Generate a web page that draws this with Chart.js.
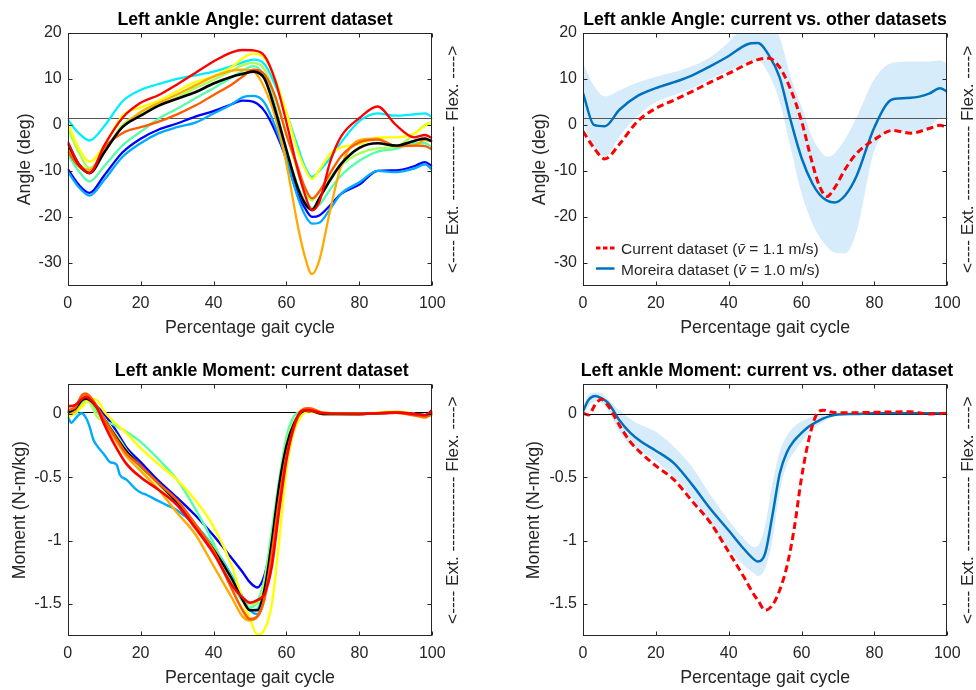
<!DOCTYPE html>
<html>
<head>
<meta charset="utf-8">
<script src="https://cdn.jsdelivr.net/npm/chart.js@4.4.1/dist/chart.umd.min.js"></script>
<style>
  html, body { margin: 0; padding: 0; background: #fff; }
  .panel { position: absolute; width: 488px; height: 345px; }
</style>
</head>
<body>
<div class="panel" style="left:0;top:0"><canvas id="angleCurrent"></canvas></div>
<div class="panel" style="left:488px;top:0"><canvas id="angleCompare"></canvas></div>
<div class="panel" style="left:0;top:345px"><canvas id="momentCurrent"></canvas></div>
<div class="panel" style="left:488px;top:345px"><canvas id="momentCompare"></canvas></div>
<script>
// ---- shared axes ----
const gaitTicks = [0, 20, 40, 60, 80, 100];
const angleTicks = [-30, -20, -10, 0, 10, 20];
const momentTicks = [-1.5, -1, -0.5, 0];

// ---- ankle angle, current dataset (one curve per trial + mean) ----
const pctAngle = [0,3,6,10,15,20,25,30,35,40,45,48,51,54,57,60,63,65,67,69,72,75,80,85,90,95,98,100];
const angleRed = [-3.6,-8.5,-10.5,-4.5,1.5,4.8,6.5,8.8,11.3,13.8,15.8,16.3,16.2,15.0,9.5,0.5,-9.5,-15.0,-18.6,-16.8,-8.0,-2.5,1.5,4.0,0.0,-2.7,-2.2,-2.9];
const angleBlack = [-4.0,-8.5,-10.5,-6.0,-0.5,2.0,4.2,5.7,7.1,9.0,10.5,11.1,11.6,10.0,3.0,-5.5,-13.5,-17.0,-18.5,-16.0,-12.0,-8.5,-5.0,-4.0,-4.5,-3.5,-3.0,-3.6];
const angleOrangeRed = [-5.8,-9.0,-10.5,-5.0,-1.8,-0.5,0.7,2.3,4.2,6.5,8.8,10.5,12.0,11.0,6.0,-2.2,-9.0,-13.5,-16.0,-14.5,-10.5,-6.8,-3.8,-3.2,-4.6,-4.5,-4.6,-5.4];
const angleOrange = [-5.1,-8.5,-9.8,-5.5,-0.5,2.8,4.8,6.6,8.6,10.5,11.8,12.0,11.6,8.0,1.5,-8.5,-21.5,-28.5,-32.5,-29.5,-18.5,-9.0,-3.3,-3.0,-4.6,-4.5,-3.3,-3.6];
const angleYellow = [0.4,-5.0,-8.0,-4.5,2.0,3.8,5.3,7.3,9.3,10.6,12.6,14.5,15.5,14.5,9.8,2.6,-5.5,-9.5,-11.8,-9.8,-6.3,-4.9,-4.2,-2.8,-2.7,-1.9,-0.2,0.7];
const angleYellowGreen = [-0.7,-6.0,-9.4,-6.0,0.0,2.5,4.3,6.0,8.0,9.8,11.8,13.0,13.5,12.0,6.0,-2.0,-10.0,-14.5,-16.5,-14.5,-11.5,-8.8,-6.2,-5.1,-4.8,-2.0,0.0,0.5];
const angleSpringGreen = [-6.4,-10.0,-12.3,-9.0,-4.5,-1.5,1.4,3.5,5.8,8.0,10.3,11.8,12.8,10.5,4.0,-5.8,-13.0,-16.5,-18.0,-17.4,-14.0,-11.0,-7.8,-5.8,-5.2,-4.0,-4.0,-5.0];
const angleCyan = [1.2,-1.8,-3.4,-0.3,5.1,7.6,8.9,10.0,10.8,11.6,12.8,13.6,14.2,13.2,8.5,2.5,-4.5,-9.0,-11.3,-10.0,-7.2,-3.8,0.8,2.5,2.0,2.3,2.5,1.7];
const angleSky = [-10.1,-13.5,-15.4,-12.0,-7.0,-4.0,-1.8,-0.5,0.5,2.5,4.5,6.0,6.3,4.8,-0.5,-7.5,-15.5,-19.5,-21.5,-21.3,-18.3,-15.0,-12.5,-10.0,-10.3,-9.5,-8.6,-9.8];
const angleBlue = [-9.6,-13.0,-14.8,-11.0,-6.0,-3.0,-1.0,0.3,1.8,3.0,4.5,5.3,5.0,3.0,-1.5,-7.5,-15.0,-18.0,-20.0,-19.7,-17.5,-15.0,-13.0,-10.0,-9.9,-9.0,-8.1,-9.0];

// ---- ankle angle, current vs. Moreira ----
const angleCurrentMean = [-1.4,-5.0,-7.4,-4.2,0.8,3.6,5.4,7.3,9.3,11.2,13.2,14.2,14.5,12.5,7.7,0.8,-8.5,-13.5,-15.6,-13.8,-9.6,-6.3,-3.2,-1.2,-1.8,-0.8,-0.1,-0.6];
const angleMoreiraMean = [6.9,0.0,-0.3,3.3,6.3,8.0,9.3,10.8,12.8,15.0,17.5,17.8,15.2,10.3,1.0,-7.2,-12.8,-15.2,-16.5,-16.9,-15.3,-11.3,-0.5,5.6,5.9,6.8,8.0,7.2];
const angleMoreiraUpper = [13.4,8.5,6.2,7.5,9.2,10.5,11.5,12.8,14.8,18.0,22.0,23.0,22.5,19.0,10.5,4.0,-2.8,-5.5,-6.9,-6.2,-3.0,1.5,10.0,13.5,13.8,13.8,14.0,13.3];
const angleMoreiraLower = [0.4,-5.0,-7.0,-2.5,2.0,5.0,6.5,8.0,10.0,11.8,13.5,14.0,11.0,5.0,-5.0,-15.0,-21.5,-24.5,-26.5,-27.8,-28.0,-23.5,-5.5,-1.5,-1.5,-0.5,1.5,1.5];

// ---- ankle moment, current dataset ----
const pctMoment = [0,2,4,5,6,8,10,13,16,20,25,30,35,40,45,48,50,52,54,56,58,60,62,64,66,70,80,90,95,98,100];
const momentRed = [0.06,0.07,0.12,0.135,0.12,0.05,-0.08,-0.25,-0.39,-0.5,-0.6,-0.72,-0.9,-1.1,-1.35,-1.45,-1.49,-1.47,-1.42,-1.2,-0.76,-0.36,-0.1,0.02,0.03,0.005,0.0,0.01,0.0,-0.01,0.03];
const momentBlack = [0.01,0.04,0.11,0.12,0.11,0.05,-0.04,-0.17,-0.29,-0.41,-0.55,-0.7,-0.88,-1.07,-1.3,-1.47,-1.55,-1.55,-1.38,-1.0,-0.56,-0.25,-0.08,0.01,0.03,0.0,0.0,0.01,0.0,-0.01,0.0];
const momentOrangeRed = [0.03,0.05,0.15,0.16,0.14,0.06,-0.04,-0.18,-0.31,-0.41,-0.55,-0.68,-0.87,-1.08,-1.38,-1.55,-1.62,-1.6,-1.45,-1.1,-0.68,-0.33,-0.11,0.02,0.045,0.01,0.0,0.01,-0.01,-0.02,0.0];
const momentOrange = [0.0,0.02,0.13,0.15,0.13,0.05,-0.06,-0.2,-0.33,-0.45,-0.6,-0.78,-0.95,-1.2,-1.45,-1.6,-1.63,-1.6,-1.46,-1.13,-0.73,-0.35,-0.12,0.03,0.045,0.01,0.0,0.01,-0.01,-0.03,0.0];
const momentYellow = [-0.03,0.01,0.06,0.09,0.12,0.11,0.02,-0.07,-0.15,-0.27,-0.4,-0.52,-0.68,-0.89,-1.2,-1.47,-1.62,-1.74,-1.7,-1.5,-1.0,-0.44,-0.14,-0.02,0.02,0.0,0.0,0.02,0.0,-0.02,0.01];
const momentYellowGreen = [-0.02,0.01,0.08,0.1,0.09,-0.02,-0.06,-0.15,-0.28,-0.42,-0.56,-0.71,-0.88,-1.06,-1.3,-1.45,-1.5,-1.5,-1.32,-0.98,-0.55,-0.22,-0.06,0.01,0.03,0.0,0.0,0.01,0.0,-0.01,0.0];
const momentSpringGreen = [0.0,0.0,0.08,0.11,0.1,0.02,-0.05,-0.09,-0.14,-0.22,-0.36,-0.52,-0.75,-1.02,-1.34,-1.48,-1.53,-1.48,-1.3,-0.92,-0.52,-0.18,-0.02,0.02,0.03,0.0,0.0,0.01,0.0,-0.01,0.0];
const momentCyan = [0.01,0.04,0.08,0.1,0.1,0.04,-0.05,-0.18,-0.3,-0.42,-0.55,-0.7,-0.87,-1.05,-1.28,-1.45,-1.55,-1.54,-1.35,-1.0,-0.55,-0.25,-0.08,0.0,0.03,0.0,0.0,0.01,0.0,-0.01,0.0];
const momentBlue = [0.02,0.05,0.14,0.15,0.13,0.06,0.0,-0.12,-0.26,-0.38,-0.53,-0.66,-0.8,-0.96,-1.14,-1.25,-1.33,-1.37,-1.27,-1.0,-0.6,-0.28,-0.09,0.0,0.03,0.005,0.0,0.01,0.0,-0.01,0.0];
// this trial is noisier, so it is read at its own points
const pctMomentSky = [0,1,2,3.8,5,6,7,8,10,11.6,13.4,14.3,16.2,18.9,20,21.7,24.4,27.2,30,35,40,45,48,50,52,54,56,58,60,62,64,66,70,80,90,95,98,100];
const momentSky = [-0.02,-0.07,-0.04,0.005,-0.03,-0.1,-0.2,-0.25,-0.32,-0.38,-0.4,-0.48,-0.52,-0.6,-0.62,-0.64,-0.68,-0.72,-0.76,-0.88,-1.05,-1.28,-1.45,-1.55,-1.58,-1.4,-1.05,-0.6,-0.27,-0.08,0.0,0.03,0.0,0.0,0.01,0.0,-0.01,0.0];

// ---- ankle moment, current vs. Moreira ----
const pctMoment2 = [0,1.5,3.3,5,7,10,13,16,20,25,30,35,40,44,47,48,50,52,54,56,58,60,62,64,66,68,70,75,80,90,95,100];
const momentCurrentMean = [0.005,-0.008,0.07,0.115,0.06,-0.09,-0.22,-0.31,-0.41,-0.52,-0.69,-0.86,-1.09,-1.28,-1.43,-1.47,-1.55,-1.51,-1.39,-1.2,-0.9,-0.5,-0.2,-0.01,0.03,0.015,0.01,0.01,0.013,0.017,0.0,0.005];
const momentMoreiraMean = [0.02,0.11,0.142,0.125,0.084,-0.05,-0.15,-0.22,-0.29,-0.39,-0.56,-0.75,-0.92,-1.06,-1.15,-1.165,-1.1,-0.8,-0.47,-0.3,-0.21,-0.15,-0.1,-0.065,-0.035,-0.015,-0.005,0.0,0.005,0.005,0.005,0.005];
const momentMoreiraUpper = [0.05,0.15,0.17,0.165,0.11,0.03,-0.04,-0.09,-0.14,-0.26,-0.42,-0.64,-0.84,-0.98,-1.05,-1.04,-0.88,-0.55,-0.3,-0.17,-0.1,-0.06,-0.03,-0.01,0.0,0.0,0.005,0.005,0.005,0.008,0.008,0.008];
const momentMoreiraLower = [-0.01,0.06,0.1,0.09,0.02,-0.14,-0.25,-0.3,-0.37,-0.5,-0.67,-0.87,-1.07,-1.19,-1.26,-1.28,-1.22,-1.0,-0.62,-0.4,-0.3,-0.22,-0.15,-0.1,-0.06,-0.03,-0.01,0.0,0.0,0.002,0.002,0.002];

const legendNames = ['Current dataset', 'Moreira dataset'];
const legendSpeeds = ['1.1', '1.0'];

// ---- look ----
const FONT = '"Liberation Sans", Arial, Helvetica, sans-serif';
const INK = '#262626';
const moreiraBlue = '#0072bd';
const bandBlue = '#d7ecfb';
const sideLabel = '<---- Ext. ------------- Flex. ---->';

Chart.defaults.font.family = FONT;
Chart.defaults.color = INK;

function line(xs, ys, color, width, dash) {
    return {
        data: xs.map((x, i) => ({ x: x, y: ys[i] })),
        borderColor: color,
        borderWidth: width,
        borderDash: dash || [],
        pointRadius: 0,
        fill: false,
        cubicInterpolationMode: 'monotone',
        clip: 0,
    };
}

function band(xs, ys, fillTo) {
    return {
        data: xs.map((x, i) => ({ x: x, y: ys[i] })),
        borderColor: 'rgba(0,0,0,0)',
        borderWidth: 0,
        backgroundColor: bandBlue,
        pointRadius: 0,
        fill: fillTo,
        cubicInterpolationMode: 'monotone',
        clip: 0,
    };
}

function drawRef(chart, o) {
    const { ctx, chartArea: a, scales: { y } } = chart;
    const py = Math.round(y.getPixelForValue(o.refY)) + 0.5;
    ctx.save();
    ctx.strokeStyle = o.refColor;
    ctx.lineWidth = 1;
    ctx.beginPath();
    ctx.moveTo(a.left, py);
    ctx.lineTo(a.right, py);
    ctx.stroke();
    ctx.restore();
}

function rotated(ctx, s, x, y) {
    ctx.save();
    ctx.translate(x, y);
    ctx.rotate(-Math.PI / 2);
    ctx.textAlign = 'center';
    ctx.textBaseline = 'alphabetic';
    ctx.fillText(s, 0, 0);
    ctx.restore();
}

const matlabFrame = {
    id: 'matlabFrame',
    beforeDatasetsDraw(chart, args, o) {
        if (o.refAfter === undefined) drawRef(chart, o);
    },
    afterDatasetDraw(chart, args, o) {
        if (args.index === o.refAfter) drawRef(chart, o);
    },
    afterDraw(chart, args, o) {
        const { ctx, chartArea: a, scales: { x, y } } = chart;
        const l = Math.round(a.left) + 0.5, r = Math.round(a.right) - 0.5;
        const t = Math.round(a.top) + 0.5, b = Math.round(a.bottom) - 0.5;
        ctx.save();
        ctx.strokeStyle = INK;
        ctx.lineWidth = 1;
        ctx.strokeRect(l, t, r - l, b - t);
        ctx.beginPath();
        x.ticks.forEach(tk => {
            const px = Math.round(x.getPixelForValue(tk.value)) + 0.5;
            ctx.moveTo(px, b); ctx.lineTo(px, b - 4);
            ctx.moveTo(px, t); ctx.lineTo(px, t + 4);
        });
        y.ticks.forEach(tk => {
            const py = Math.round(y.getPixelForValue(tk.value)) + 0.5;
            ctx.moveTo(l, py); ctx.lineTo(l + 4, py);
            ctx.moveTo(r, py); ctx.lineTo(r - 4, py);
        });
        ctx.stroke();

        ctx.fillStyle = '#000';
        ctx.font = 'bold 17.7px ' + FONT;
        ctx.textAlign = 'center';
        ctx.textBaseline = 'alphabetic';
        ctx.fillText(o.title, o.titleX, o.titleY);

        ctx.fillStyle = INK;
        ctx.font = '17.8px ' + FONT;
        ctx.fillText('Percentage gait cycle', (a.left + a.right) / 2, o.xTitleY);
        const midY = (a.top + a.bottom) / 2;
        rotated(ctx, o.yTitle, o.yTitleX, midY);
        ctx.font = '17.3px ' + FONT;
        rotated(ctx, sideLabel, o.sideX, midY);

        if (o.legend) {
            const lg = o.legend;
            legendNames.forEach((name, i) => {
                const ly = lg.rows[i];
                ctx.save();
                ctx.strokeStyle = lg.colors[i];
                ctx.lineWidth = lg.widths[i];
                ctx.setLineDash(lg.dashes[i]);
                ctx.beginPath();
                ctx.moveTo(lg.x0, ly - 6);
                ctx.lineTo(lg.x1, ly - 6);
                ctx.stroke();
                ctx.restore();
                let tx = lg.tx;
                const plain = '15.5px ' + FONT;
                const ital = 'italic 15.5px ' + FONT;
                ctx.textAlign = 'left';
                ctx.font = plain;
                const a1 = name + ' (';
                ctx.fillText(a1, tx, ly);
                tx += ctx.measureText(a1).width;
                ctx.font = ital;
                ctx.fillText('v\u0304', tx, ly);
                tx += ctx.measureText('v').width;
                ctx.font = plain;
                ctx.fillText(' = ' + legendSpeeds[i] + ' m/s)', tx, ly);
            });
        }
        ctx.restore();
    }
};
Chart.register(matlabFrame);

function makeChart(id, datasets, box, yMin, yMax, yTicks, frame) {
    return new Chart(document.getElementById(id), {
        type: 'line',
        data: { datasets: datasets },
        options: {
            responsive: true,
            maintainAspectRatio: false,
            animation: false,
            events: [],
            layout: { padding: { left: 0, right: box.right, top: box.top, bottom: 0 } },
            scales: {
                x: {
                    type: 'linear',
                    min: 0,
                    max: 100,
                    grid: { display: false, drawTicks: false },
                    border: { display: false },
                    afterBuildTicks: s => { s.ticks = gaitTicks.map(v => ({ value: v })); },
                    afterFit: s => { s.height = box.xH; },
                    ticks: { padding: 8, maxRotation: 0, autoSkip: false, font: { size: 16 }, color: INK, callback: v => String(v) },
                },
                y: {
                    type: 'linear',
                    min: yMin,
                    max: yMax,
                    grid: { display: false, drawTicks: false },
                    border: { display: false },
                    afterBuildTicks: s => { s.ticks = yTicks.map(v => ({ value: v })); },
                    afterFit: s => { s.width = box.yW; },
                    ticks: { padding: 6, autoSkip: false, font: { size: 16 }, color: INK, callback: v => String(v) },
                },
            },
            plugins: {
                legend: { display: false },
                tooltip: { enabled: false },
                matlabFrame: frame,
            },
        },
    });
}

const leftBoxTop = { yW: 67.7, right: 55.7, top: 33, xH: 59.3 };
const rightBoxTop = { yW: 95, right: 28.7, top: 33, xH: 59.3 };
const leftBoxBottom = { yW: 67.7, right: 55.7, top: 39.3, xH: 54 };
const rightBoxBottom = { yW: 95, right: 28.7, top: 39.3, xH: 54 };

makeChart('angleCurrent', [
    line(pctAngle, angleRed, '#ff0000', 2.3),
    line(pctAngle, angleBlack, '#000000', 2.6),
    line(pctAngle, angleOrangeRed, '#ff5a00', 2.3),
    line(pctAngle, angleOrange, '#ffaa00', 2.3),
    line(pctAngle, angleYellow, '#ffff00', 2.3),
    line(pctAngle, angleYellowGreen, '#aaff55', 2.3),
    line(pctAngle, angleSpringGreen, '#55ffaa', 2.3),
    line(pctAngle, angleCyan, '#00eeff', 2.3),
    line(pctAngle, angleSky, '#00aaff', 2.3),
    line(pctAngle, angleBlue, '#0000ff', 2.3),
], leftBoxTop, -35, 20, angleTicks, {
    title: 'Left ankle Angle: current dataset', titleX: 255, titleY: 25,
    xTitleY: 332.7, yTitle: 'Angle (deg)', yTitleX: 29.5, sideX: 458,
    refY: 1.45, refColor: '#555555',
});

makeChart('angleCompare', [
    line(pctAngle, angleCurrentMean, '#ff0000', 3, [7, 4]),
    line(pctAngle, angleMoreiraMean, moreiraBlue, 2.5),
    band(pctAngle, angleMoreiraUpper, '+1'),
    band(pctAngle, angleMoreiraLower, false),
], rightBoxTop, -35, 20, angleTicks, {
    title: 'Left ankle Angle: current vs. other datasets', titleX: 277, titleY: 25,
    xTitleY: 332.7, yTitle: 'Angle (deg)', yTitleX: 56.5, sideX: 484.7,
    refY: 1.45, refColor: '#555555', refAfter: 2,
    legend: {
        x0: 108, x1: 126.5, tx: 133, rows: [254, 274.5],
        colors: ['#ff0000', moreiraBlue], widths: [3, 2.5], dashes: [[4.5, 2.5], []],
    },
});

makeChart('momentCurrent', [
    line(pctMoment, momentRed, '#ff0000', 2.6),
    line(pctMoment, momentOrangeRed, '#ff5a00', 2.6),
    line(pctMoment, momentBlack, '#000000', 2.4),
    line(pctMoment, momentOrange, '#ffaa00', 2.4),
    line(pctMoment, momentYellow, '#ffff00', 2.4),
    line(pctMoment, momentYellowGreen, '#aaff55', 2.4),
    line(pctMoment, momentSpringGreen, '#55ffaa', 2.4),
    line(pctMoment, momentCyan, '#00eeff', 2.4),
    line(pctMomentSky, momentSky, '#00aaff', 2.4),
    line(pctMoment, momentBlue, '#0000ff', 2.4),
], leftBoxBottom, -1.753, 0.234, momentTicks, {
    title: 'Left ankle Moment: current dataset', titleX: 261.8, titleY: 30.7,
    xTitleY: 338.3, yTitle: 'Moment (N-m/kg)', yTitleX: 24.5, sideX: 458.3,
    refY: 0.012, refColor: '#000000',
});

makeChart('momentCompare', [
    line(pctMoment2, momentCurrentMean, '#ff0000', 3, [7, 4]),
    line(pctMoment2, momentMoreiraMean, moreiraBlue, 2.5),
    band(pctMoment2, momentMoreiraUpper, '+1'),
    band(pctMoment2, momentMoreiraLower, false),
], rightBoxBottom, -1.753, 0.234, momentTicks, {
    title: 'Left ankle Moment: current vs. other dataset', titleX: 279, titleY: 30.7,
    xTitleY: 338.3, yTitle: 'Moment (N-m/kg)', yTitleX: 51.2, sideX: 484.7,
    refY: 0, refColor: '#000000', refAfter: 2,
});
</script>
</body>
</html>
